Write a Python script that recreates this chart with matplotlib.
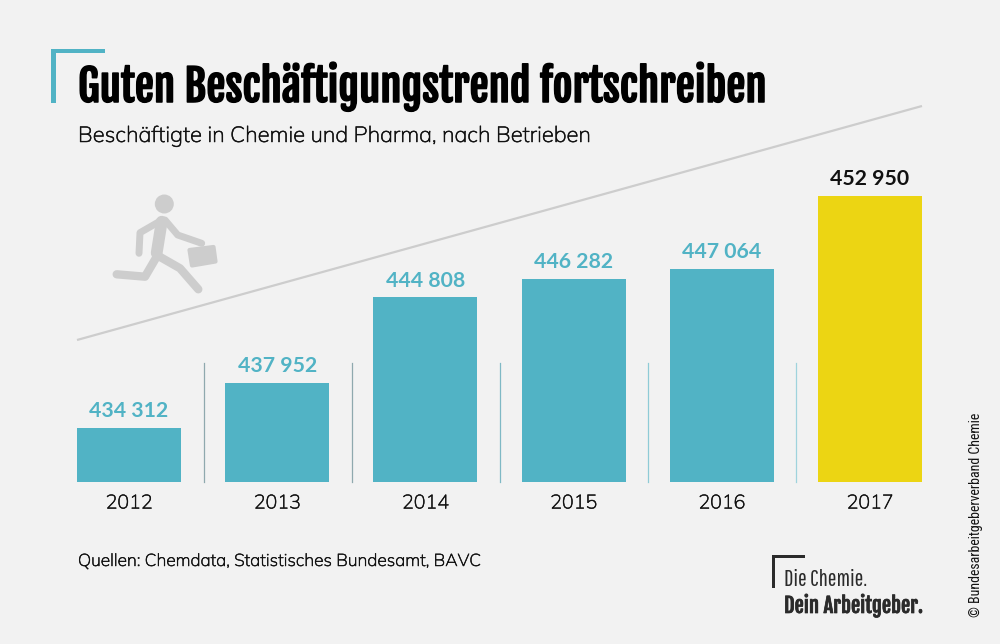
import matplotlib
matplotlib.use('Agg')
from matplotlib import pyplot as plt
from matplotlib import patheffects as pe
from matplotlib.patches import Circle, Polygon, Rectangle

years = ['2012', '2013', '2014', '2015', '2016', '2017']
employees = [434312, 437952, 444808, 446282, 447064, 452950]

teal = '#51b3c5'
yellow = '#ecd513'
grey = '#cdcdcd'
bg = '#f2f2f2'
dark = '#2b2b2b'
W, H = 1000, 644

heavy = ['Fjalla One', 'Roboto', 'DejaVu Sans']
thin = ['Pathway Gothic One', 'Roboto', 'DejaVu Sans']
narrow = ['Roboto Condensed', 'Roboto', 'DejaVu Sans']
body = ['Mulish', 'Lato', 'DejaVu Sans']

fig = plt.figure(figsize = (10, 6.44), dpi = 100, facecolor = bg)
renderer = fig.canvas.get_renderer()

def fit(t, px):
    # scale the font so the text takes the same length as in the reference
    box = t.get_window_extent(renderer)
    t.set_fontsize(t.get_fontsize() * px / max(box.width, box.height))

def thicken(t, lw):
    # the light and regular cuts are thinner than the reference lettering
    t.set_path_effects([pe.withStroke(linewidth = lw, foreground = t.get_color())])

# bars, axes placed so that the baseline sits at y = 482 px
ax = fig.add_axes([54.9 / W, (H - 482) / H, 889.2 / W, 286 / H])
ax.set_facecolor('none')
bars = ax.bar(
    years, employees, width = 0.702,
    color = [teal] * 5 + [yellow]
)
ax.set_xlim(-0.5, 5.5)
ax.set_ylim(430000, 452950)
ax.set_yticks([])
for s in ax.spines.values():
    s.set_visible(False)
ax.tick_params(axis = 'x', length = 0, pad = 9, labelsize = 15, labelcolor = '#111111')
for l in ax.get_xticklabels():
    l.set_family(body)
    fit(l, 47)
    thicken(l, 0.35)

labels = [f'{v:,}'.replace(',', ' ') for v in employees]
txt = ax.bar_label(bars, labels = labels, padding = 5, family = 'Lato',
                   fontweight = 'bold', fontsize = 15.5, clip_on = False)
for t in txt[:-1]:
    t.set_color(teal)
txt[-1].set_color('#111111')
for t in txt:
    fit(t, 79)

# everything else in pixel coordinates
deco = fig.add_axes([0, 0, 1, 1])
deco.set_xlim(0, W)
deco.set_ylim(H, 0)
deco.axis('off')
deco.patch.set_alpha(0)

# trend line
deco.plot([77, 922], [340, 106], color = grey, lw = 1.6, solid_capstyle = 'butt')

# separators
for x, c in zip([203.5, 351.5, 499.5, 647.5, 795.5],
                ['#8fa9ae', '#8fa9ae', '#7fb9c5', '#8fcbd6', '#9fd3dd']):
    deco.plot([x, x], [363, 482], color = c, lw = 0.9)

# bracket over the title
deco.add_patch(Rectangle((51, 49), 54, 4, color = teal, lw = 0))
deco.add_patch(Rectangle((51, 49), 5, 54, color = teal, lw = 0))

# running man
runner = [
    ([161.7, 156.7], [221.7, 253], 8.5),
    ([162, 140, 139], [220, 232.7, 253.3], 5),
    ([165, 177.7, 201.7], [220, 235, 243.3], 5),
    ([156.7, 145, 116.7], [256.7, 276.7, 274.3], 6),
    ([156.7, 180, 198.3], [255, 268.3, 289.3], 6),
]
for xs, ys, lw in runner:
    deco.plot(xs, ys, color = grey, lw = lw, solid_capstyle = 'round', solid_joinstyle = 'round')
deco.add_patch(Circle((164.3, 204), 9.5, color = grey, lw = 0))
deco.add_patch(Polygon(
    [(189.5, 250), (213.5, 247), (215.5, 261.5), (192, 265.5)],
    closed = True, facecolor = grey, edgecolor = grey, lw = 3, joinstyle = 'round'
))

# texts
title = deco.text(78, 102, 'Guten Beschäftigungstrend fortschreiben', family = heavy,
                  fontsize = 32, color = 'black', va = 'baseline')
fit(title, 690)
thicken(title, 1.1)
sub = deco.text(78, 142, 'Beschäftigte in Chemie und Pharma, nach Betrieben', family = body,
                fontsize = 15.5, color = '#111111', va = 'baseline')
fit(sub, 512)
thicken(sub, 0.35)
src = deco.text(78, 566, 'Quellen: Chemdata, Statistisches Bundesamt, BAVC', family = body,
                fontsize = 13, color = '#111111', va = 'baseline')
fit(src, 404)
thicken(src, 0.35)

# logo
deco.add_patch(Rectangle((772, 555), 33, 3, color = dark, lw = 0))
deco.add_patch(Rectangle((772, 555), 3, 33, color = dark, lw = 0))
fit(deco.text(784, 586, 'Die Chemie.', family = thin, fontsize = 15,
              color = dark, va = 'baseline'), 83)
claim = deco.text(784, 613, 'Dein Arbeitgeber.', family = heavy,
                  fontsize = 15, color = dark, va = 'baseline')
fit(claim, 140)
thicken(claim, 0.5)

fit(deco.text(976, 617, '© Bundesarbeitgeberverband Chemie', family = narrow,
              fontsize = 9.5, color = '#111111', rotation = 90, ha = 'center', va = 'bottom'), 206)

fig.savefig('out.png', dpi = 100, facecolor = bg)
